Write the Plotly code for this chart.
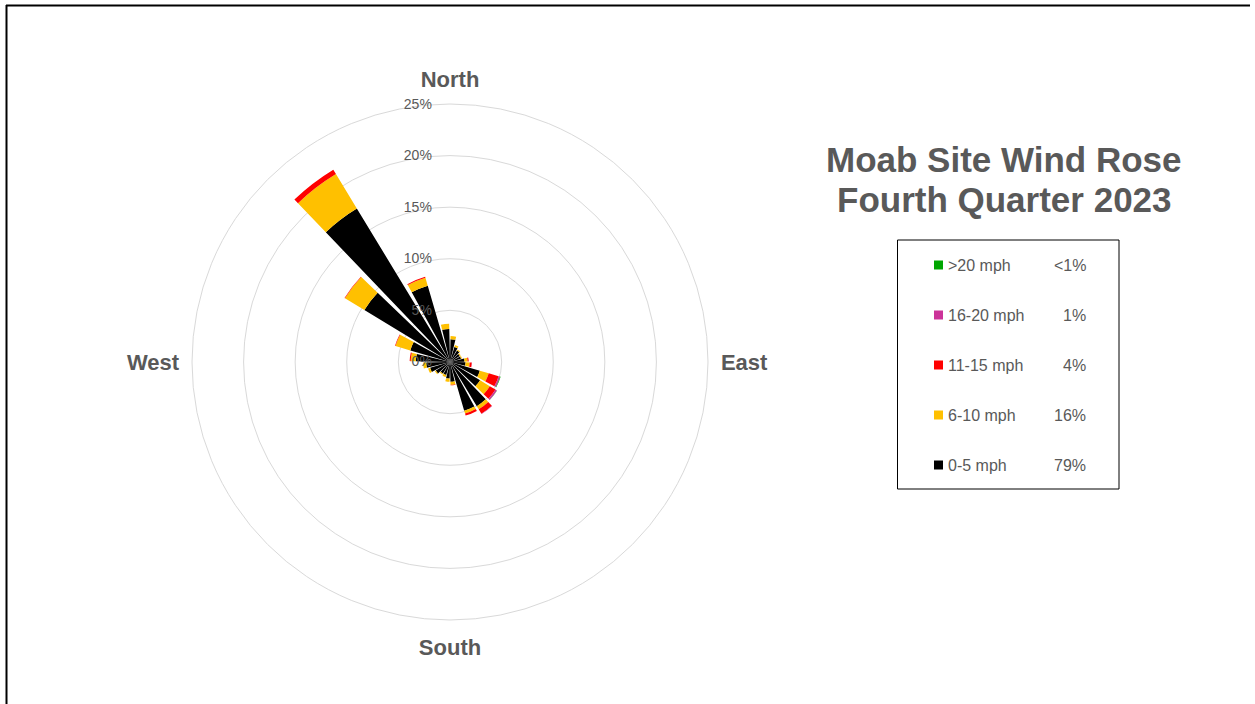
import plotly.graph_objects as go

# ---- data ----
directions = [7.5, 22.5, 37.5, 52.5, 67.5, 82.5, 97.5, 112.5, 127.5, 142.5, 157.5, 172.5,
              187.5, 202.5, 217.5, 232.5, 247.5, 262.5, 277.5, 292.5, 307.5, 322.5, 337.5, 352.5]
speed_0_5   = [2.2, 1.5, 1.3, 1.1, 1.1, 1.4, 1.5, 3.0, 3.4, 5.0, 4.9, 1.9,
               1.6, 1.3, 1.3, 1.6, 2.0, 2.3, 3.3, 4.0, 9.7, 17.4, 7.7, 3.2]
speed_6_10  = [0.3, 0.2, 0.1, 0.1, 0.1, 0.3, 0.4, 0.9, 1.1, 0.35, 0.3, 0.3,
               0.3, 0.2, 0.1, 0.1, 0.2, 0.3, 0.5, 1.5, 2.2, 3.9, 0.8, 0.5]
speed_11_15 = [0, 0, 0, 0, 0, 0.1, 0.2, 1.0, 0.65, 0.5, 0.2, 0.05,
               0, 0, 0, 0, 0, 0, 0.1, 0.05, 0.05, 0.5, 0.1, 0]
speed_16_20 = [0, 0, 0, 0, 0, 0, 0.02, 0.15, 0.15, 0.05, 0, 0,
               0, 0, 0, 0, 0, 0, 0, 0, 0, 0, 0, 0]
speed_gt20  = [0, 0, 0, 0, 0, 0, 0, 0.05, 0.03, 0, 0, 0,
               0, 0, 0, 0, 0, 0, 0, 0, 0, 0, 0, 0]

class_names = ["0-5 mph", "6-10 mph", "11-15 mph", "16-20 mph", ">20 mph"]
class_pcts = ["79%", "16%", "4%", "1%", "<1%"]
class_colors = ["#000000", "#FFC000", "#FF0000", "#CC3399", "#00A600"]
series = [speed_0_5, speed_6_10, speed_11_15, speed_16_20, speed_gt20]

radial_ticks = [0, 5, 10, 15, 20, 25]
radial_labels = ["0%", "5%", "10%", "15%", "20%", "25%"]
compass_vals = [0, 90, 180, 270]
compass_text = ["North", "East", "South", "West"]

title_lines = ["Moab Site Wind Rose", "Fourth Quarter 2023"]

# ---- figure ----
W, H = 1255, 704
FONT = "Liberation Sans, Arial, sans-serif"
GREY = "#595959"
PAD = "\u00a0" * 4  # keeps the radial labels a little left of the axis

def px(x):
    return x / W

def py(y):
    return 1 - y / H

fig = go.Figure()
for name, vals, col in zip(class_names, series, class_colors):
    fig.add_trace(go.Barpolar(
        r=vals, theta=directions, name=name, width=12.5,
        marker=dict(color=col, line=dict(width=0)),
        hoverinfo="skip", showlegend=False,
    ))

cx, cy, R = 450, 362, 258
fig.update_layout(
    width=W, height=H,
    margin=dict(l=0, r=0, t=0, b=0),
    paper_bgcolor="white",
    font=dict(family=FONT, color=GREY),
    polar=dict(
        domain=dict(x=[px(cx - R), px(cx + R)], y=[py(cy + R), py(cy - R)]),
        bgcolor="white",
        barmode="stack",
        radialaxis=dict(
            range=[-0.01, 25], tickvals=radial_ticks,
            ticktext=[t + PAD for t in radial_labels],
            angle=90, tickangle=90, side="counterclockwise",
            showline=False, ticks="", gridcolor="#D9D9D9", gridwidth=1,
            layer="above traces",
            tickfont=dict(size=14, color=GREY, family=FONT),
        ),
        angularaxis=dict(
            rotation=90, direction="clockwise",
            tickvals=compass_vals, ticktext=compass_text,
            showgrid=False, showline=True, linecolor="#D9D9D9", linewidth=1,
            ticks="outside", ticklen=8, tickcolor="rgba(0,0,0,0)",
            tickfont=dict(size=22, color=GREY, family=FONT, weight="bold"),
        ),
    ),
)

# title
for i, line in enumerate(title_lines):
    fig.add_annotation(
        text=line, x=px(1004), y=py(159 + 40 * i), xref="paper", yref="paper",
        xanchor="center", yanchor="middle", showarrow=False,
        font=dict(size=35, color=GREY, family=FONT, weight="bold"),
    )

# legend box
fig.add_shape(type="rect", xref="paper", yref="paper",
              x0=px(897.5), x1=px(1119), y0=py(489), y1=py(240),
              line=dict(color="black", width=1), fillcolor="rgba(0,0,0,0)")
row_y = [465, 415, 365, 315, 265]
for name, pct, col, yy in zip(class_names, class_pcts, class_colors, row_y):
    fig.add_shape(type="rect", xref="paper", yref="paper",
                  x0=px(934), x1=px(943), y0=py(yy + 4.5), y1=py(yy - 4.5),
                  line=dict(width=0), fillcolor=col)
    fig.add_annotation(text=name, x=px(946), y=py(yy), xref="paper", yref="paper",
                       xanchor="left", yanchor="middle", showarrow=False,
                       font=dict(size=16, color=GREY, family=FONT))
    fig.add_annotation(text=pct, x=px(1088), y=py(yy), xref="paper", yref="paper",
                       xanchor="right", yanchor="middle", showarrow=False,
                       font=dict(size=16, color=GREY, family=FONT))

# outer frame (top and left edges visible)
fig.add_shape(type="line", xref="paper", yref="paper",
              x0=px(6), x1=px(1250), y0=py(5.5), y1=py(5.5),
              line=dict(color="black", width=2))
fig.add_shape(type="line", xref="paper", yref="paper",
              x0=px(6.5), x1=px(6.5), y0=py(5), y1=py(710),
              line=dict(color="black", width=2))

fig.write_html("out.html", config={"displayModeBar": False},
               post_script="document.body.style.margin='0';")
